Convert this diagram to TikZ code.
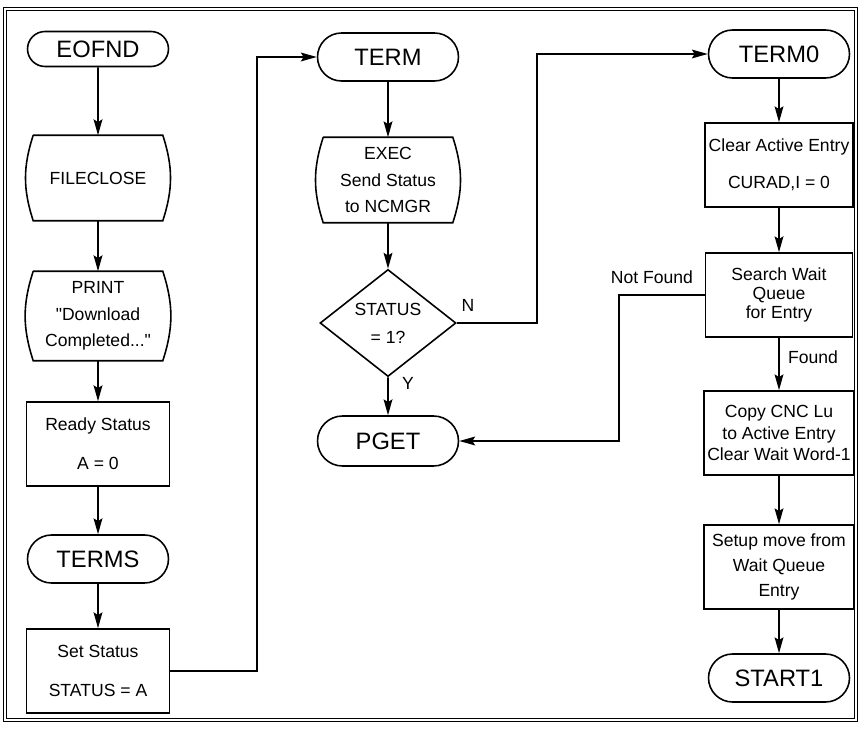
\documentclass[tikz,border=0pt]{standalone}
\usepackage{fontspec}
\setmainfont{Liberation Sans}
\usetikzlibrary{arrows.meta, shapes.geometric, shapes.misc}

\begin{document}
\begin{tikzpicture}[x=0.02cm, y=-0.02cm, line width=0.9pt,
        >={Stealth[length=9pt, width=5pt, inset=1.5pt]},
        startstop/.style={rounded rectangle, draw, minimum width=2.82cm, minimum height=0.96cm,
          inner sep=0pt, font=\fontsize{13.5}{16}\selectfont},
        box/.style={rectangle, draw, minimum width=2.86cm, minimum height=1.68cm, align=center,
          inner sep=2pt, font=\fontsize{10}{12}\selectfont},
        barrel/.style={rectangle, minimum width=2.56cm, minimum height=1.68cm, align=center,
          inner sep=0pt, font=\fontsize{10}{12}\selectfont},
        decide/.style={diamond, draw, minimum width=2.72cm, minimum height=1.86cm, inner sep=0pt,
          align=center, font=\fontsize{10}{12}\selectfont},
        lbl/.style={font=\fontsize{10}{12}\selectfont}]
      \useasboundingbox (0,0) rectangle (861,733);
      % Frame
      \draw[line width=0.5pt, double distance=1.2pt] (5,9) rectangle (856,720);

      % Left column
      \node[startstop, minimum height=0.7cm] (eofnd) at (98,49) {EOFND};
      \node[barrel] (fclose) at (98,178) {FILECLOSE};
      \node[barrel, minimum height=1.76cm] (print) at (98,316)
        {PRINT\\[3pt]\textquotedbl Download\\[3pt]Completed...\textquotedbl};
      \node[box] (ready) at (98,444) {Ready Status\\[10pt]A = 0};
      \node[startstop] (terms) at (98,559) {TERMS};
      \node[box] (setst) at (98,671) {Set Status\\[10pt]STATUS = A};

      % Middle column
      \node[startstop] (term) at (388,57) {TERM};
      \node[barrel] (exec) at (388,180) {EXEC\\[3pt]Send Status\\[3pt]to NCMGR};
      \node[decide] (dec) at (388,323) {STATUS\\[4pt]= 1?};
      \node[startstop, minimum height=1cm] (pget) at (388,441) {PGET};

      % Right column
      \node[startstop] (term0) at (779,54) {TERM0};
      \node[box, minimum width=2.94cm] (clear) at (779,165) {Clear Active Entry\\[9pt]CURAD,I = 0};
      \node[box, minimum width=2.94cm] (search) at (779,295) {Search Wait\\[-1pt]Queue\\[-1pt]for Entry};
      \node[box, minimum width=3cm] (copy) at (779,433) {Copy CNC Lu\\to Active Entry\\Clear Wait Word-1};
      \node[box, minimum width=3cm] (setup) at (779,567) {Setup move from\\[2pt]Wait Queue\\[2pt]Entry};
      \node[startstop] (start) at (779,678) {START1};

      % Barrel outlines
      \foreach \n in {fclose, print, exec}
        \draw (\n.north west) -- (\n.north east) to[bend left=18] (\n.south east)
          -- (\n.south west) to[bend left=18] (\n.north west);

      % Connectors
      \draw[->] (eofnd) -- (fclose);
      \draw[->] (fclose) -- (print);
      \draw[->] (print) -- (ready);
      \draw[->] (ready) -- (terms);
      \draw[->] (terms) -- (setst);
      \draw[->] (setst.east) -- ++(87,0) |- (term.west);
      \draw[->] (term) -- (exec);
      \draw[->] (exec) -- (dec);
      \draw[->] (dec) -- (pget);
      \draw[->] (dec.east) -- ++(80,0) |- (term0.west);
      \draw[->] (term0) -- (clear);
      \draw[->] (clear) -- (search);
      \draw[->] (search) -- (copy);
      \draw[->] (copy) -- (setup);
      \draw[->] (setup) -- (start);
      \draw[->] (search.west) -- ++(-86,0) |- (pget.east);

      \node[lbl] (nlbl) at (468,305) {N};
      \node[lbl] (ylbl) at (408,383) {Y};
      \node[lbl] (notfound) at (652,277) {Not Found};
      \node[lbl] (found) at (813,357) {Found};
    \end{tikzpicture}
\end{document}
